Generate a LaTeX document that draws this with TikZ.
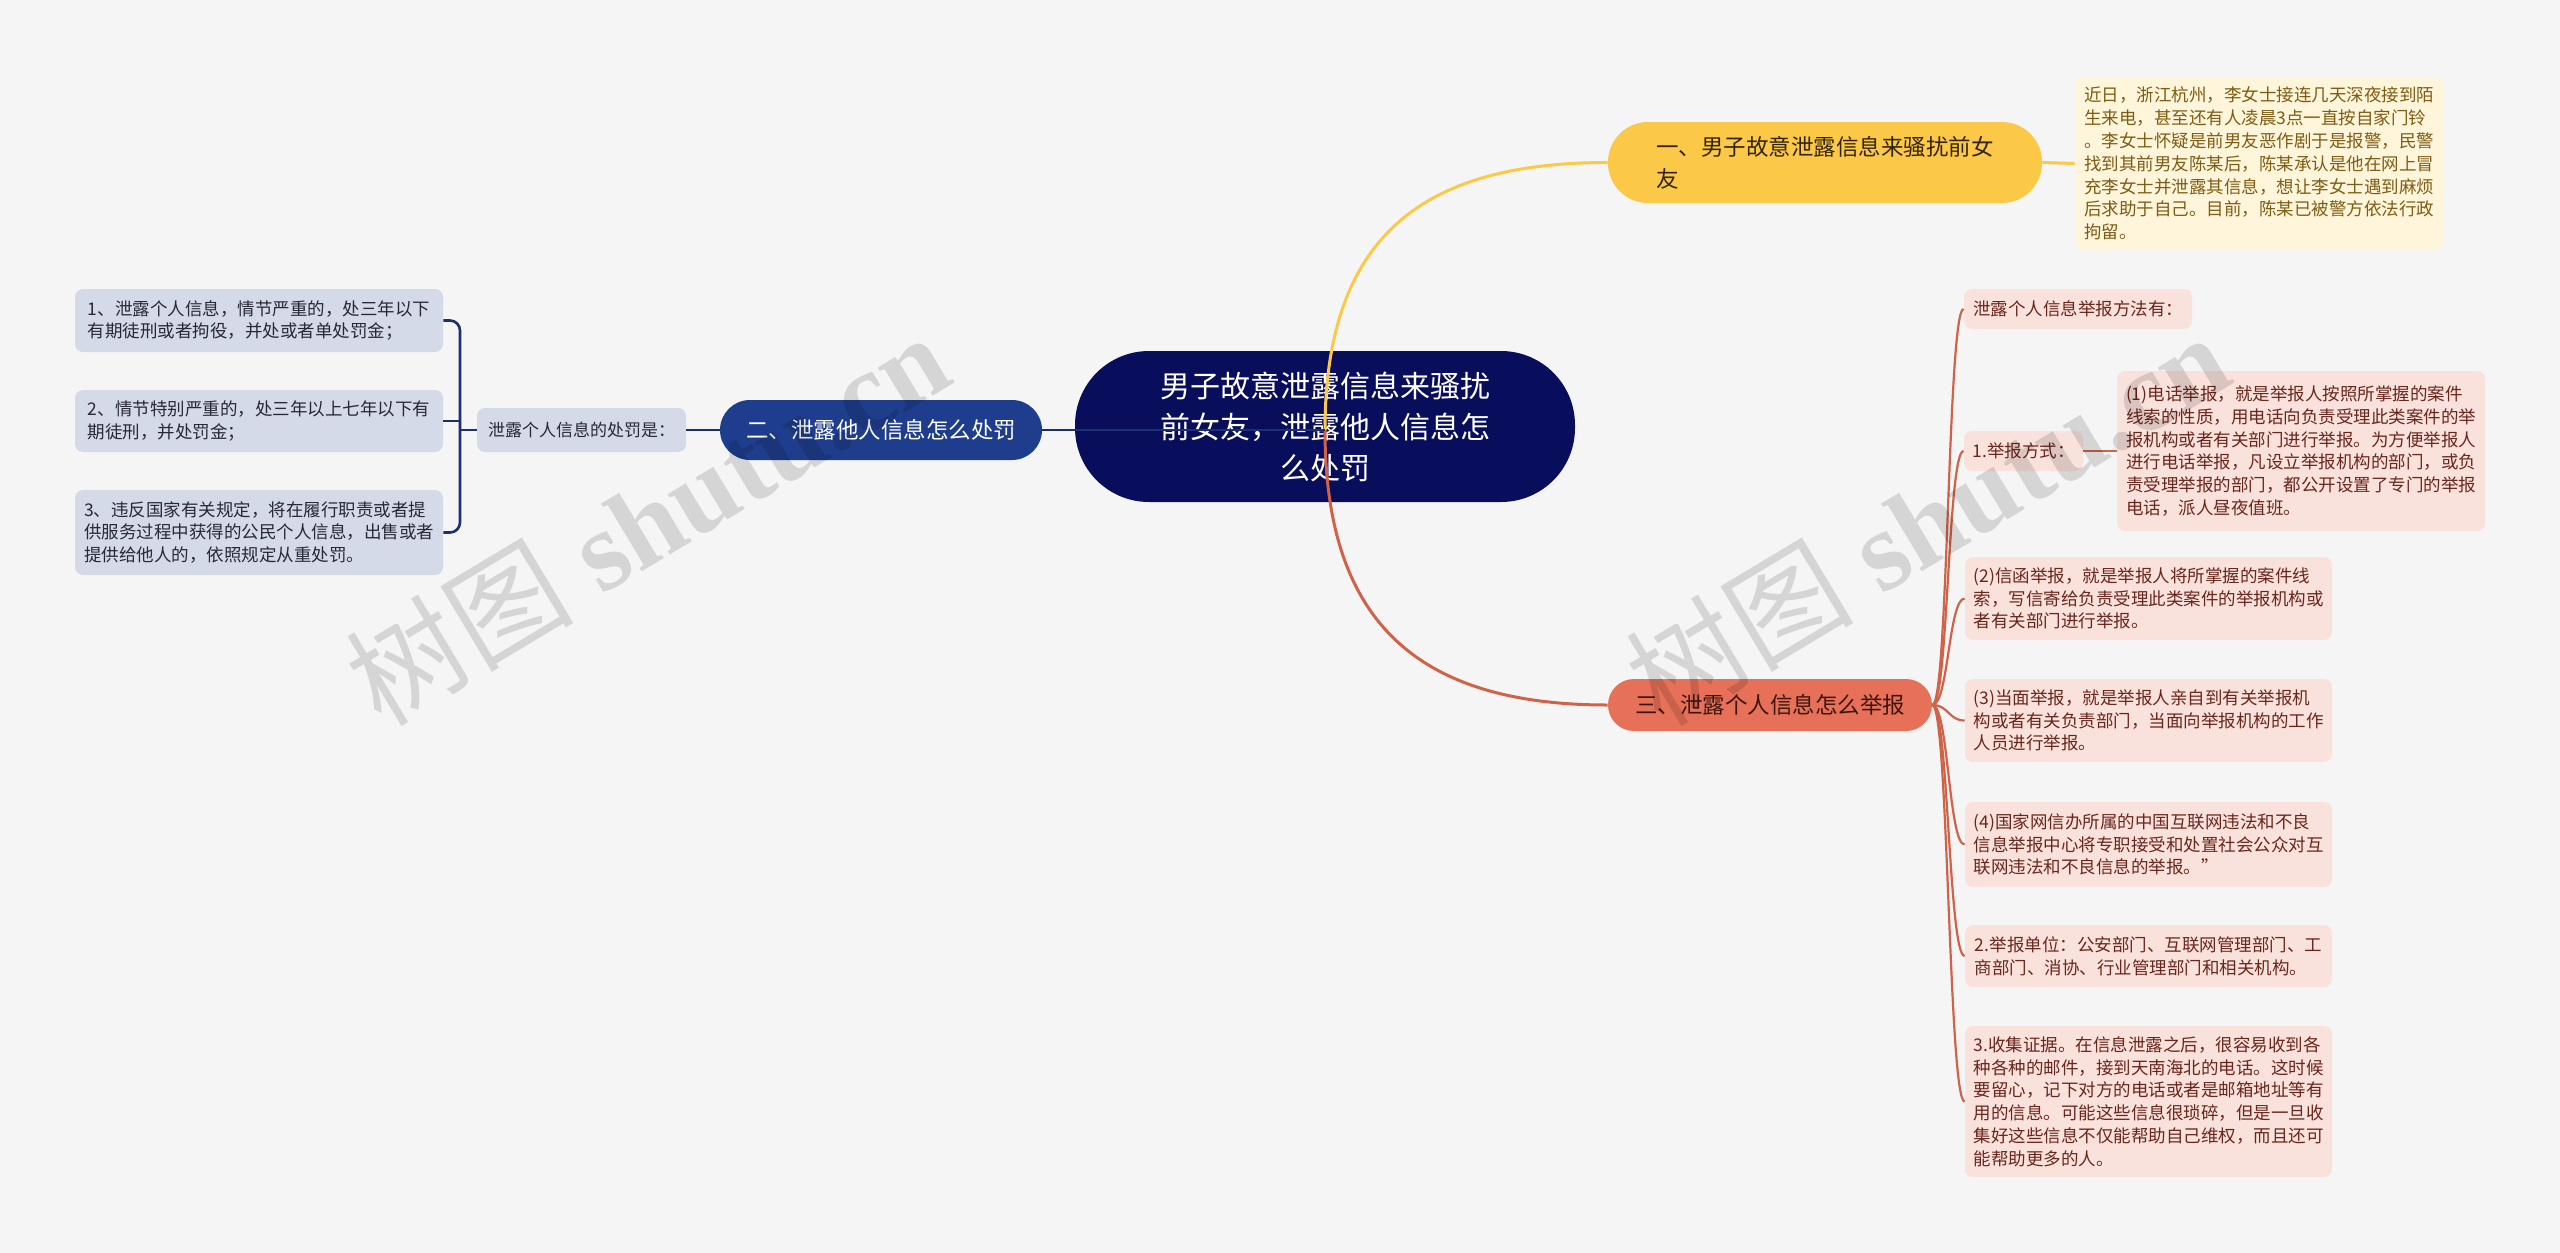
\documentclass[tikz,border=0pt]{standalone}
\usepackage{fontspec}
\setmainfont{Noto Sans CJK SC}
\newfontfamily\wmserif{Liberation Serif}
\usepackage{tikz}
\usetikzlibrary{positioning}
\definecolor{bggray}{HTML}{F5F5F5}
\definecolor{rootnavy}{RGB}{8,14,92}
\definecolor{topicyellow}{RGB}{252,200,72}
\definecolor{yellowtext}{RGB}{50,36,10}
\definecolor{noteyellow}{RGB}{255,245,218}
\definecolor{notetext}{RGB}{125,92,20}
\definecolor{topicblue}{RGB}{30,61,140}
\definecolor{leafblue}{RGB}{213,218,232}
\definecolor{lineblue}{RGB}{28,48,112}
\definecolor{bluetext}{RGB}{40,40,55}
\definecolor{topicred}{RGB}{230,112,88}
\definecolor{leafred}{RGB}{250,226,220}
\definecolor{linered}{RGB}{208,98,72}
\definecolor{redtext}{RGB}{105,38,28}
\definecolor{topicredtext}{RGB}{60,22,14}

\begin{document}
\begin{tikzpicture}[x=0.5pt, y=-0.5pt,
	every node/.style={inner sep=0pt},
	rootbox/.style={fill=rootnavy, text=white, align=center, rounded corners=37pt,
		minimum width=250pt, minimum height=75.5pt, font=\fontsize{15pt}{20.5pt}\selectfont},
	topicbox/.style={align=left, font=\fontsize{11.25pt}{16pt}\selectfont},
	leafbox/.style={align=left, rounded corners=4pt, font=\fontsize{8.75pt}{11.4pt}\selectfont},
	leafb/.style={leafbox, fill=leafblue, text=bluetext, minimum width=184pt},
	leafr/.style={leafbox, fill=leafred, text=redtext, minimum width=183.5pt},
	yellowline/.style={draw=topicyellow, line width=1.5pt},
	blueline/.style={draw=lineblue, line width=1.3pt},
	redline/.style={draw=linered, line width=1.5pt},
	redthin/.style={draw=linered, line width=1.1pt},
	watermark/.style={rotate=31, text=black, text opacity=0.13,
		font=\wmserif\bfseries\fontsize{57pt}{57pt}\selectfont}]
	% fondo
	\fill[bggray] (0,0) rectangle (2560,1253);
	\useasboundingbox (0,0) rectangle (2560,1253);
	% nodo central
	\node[rootbox] (root) at (1325,426.5) {男子故意泄露信息来骚扰\\前女友，泄露他人信息怎\\么处罚};
	\coordinate (hub) at (1325,430);
	% ramas principales
	\node[topicbox, fill=topicyellow, text=yellowtext, rounded corners=20pt,
		minimum width=217pt, minimum height=40.5pt] (harass) at (1825,162.5)
		{一、男子故意泄露信息来骚扰前女\\友};
	\node[topicbox, fill=topicblue, text=white, rounded corners=15pt,
		minimum width=161pt, minimum height=30pt] (punish) at (881,430)
		{二、泄露他人信息怎么处罚};
	\node[topicbox, fill=topicred, text=topicredtext, rounded corners=13pt,
		minimum width=162pt, minimum height=26pt] (report) at (1770,705)
		{三、泄露个人信息怎么举报};
	\draw[yellowline] (hub) .. controls +(0,-200) and +(-178,0) .. (harass.west);
	\draw[redline] (hub) .. controls +(0,194) and +(-188,0) .. (report.west);
	\draw[blueline] (hub) -- (punish.east);
	% rama amarilla
	\node[leafbox, fill=noteyellow, text=notetext, minimum width=184pt, minimum height=86.5pt] (news) at (2259,163.5)
		{近日，浙江杭州，李女士接连几天深夜接到陌\\生来电，甚至还有人凌晨3点一直按自家门铃\\。李女士怀疑是前男友恶作剧于是报警，民警\\找到其前男友陈某后，陈某承认是他在网上冒\\充李女士并泄露其信息，想让李女士遇到麻烦\\后求助于自己。目前，陈某已被警方依法行政\\拘留。};
	\draw[yellowline] (harass.east) -- (news.west);
	% rama azul
	\node[leafbox, fill=leafblue, text=bluetext, font=\fontsize{8.5pt}{11pt}\selectfont,
		minimum width=104.5pt, minimum height=22pt] (plabel) at (581.5,430) {泄露个人信息的处罚是：};
	\node[leafb, minimum height=31.5pt] (pb1) at (259,320.5)
		{1、泄露个人信息，情节严重的，处三年以下\\有期徒刑或者拘役，并处或者单处罚金；};
	\node[leafb, minimum height=31pt] (pb2) at (259,421)
		{2、情节特别严重的，处三年以上七年以下有\\期徒刑，并处罚金；};
	\node[leafb, minimum height=42.5pt] (pb3) at (259,532.5)
		{3、违反国家有关规定，将在履行职责或者提\\供服务过程中获得的公民个人信息，出售或者\\提供给他人的，依照规定从重处罚。};
	\coordinate (brk) at (460,430);
	\draw[blueline] (plabel.east) -- (punish.west);
	\draw[blueline] (brk) -- (plabel.west);
	\draw[blueline, rounded corners=5pt] (pb1.east) -| (brk) |- (pb3.east);
	\draw[blueline] (pb2.east) -- (pb2.east -| brk);
	% rama roja
	\node[leafr, minimum width=114pt, minimum height=20pt] (r0) at (2078,309) {泄露个人信息举报方法有：};
	\node[leafr, minimum width=59.5pt, minimum height=20pt] (r1) at (2023.5,451) {1.举报方式：};
	\node[leafr, minimum width=184pt, minimum height=80pt] (r1a) at (2301,451)
		{(1)电话举报，就是举报人按照所掌握的案件\\线索的性质，用电话向负责受理此类案件的举\\报机构或者有关部门进行举报。为方便举报人\\进行电话举报，凡设立举报机构的部门，或负\\责受理举报的部门，都公开设置了专门的举报\\电话，派人昼夜值班。};
	\node[leafr, minimum height=41.5pt] (r2) at (2148.5,598.5)
		{(2)信函举报，就是举报人将所掌握的案件线\\索，写信寄给负责受理此类案件的举报机构或\\者有关部门进行举报。};
	\node[leafr, minimum height=41.5pt] (r3) at (2148.5,720.5)
		{(3)当面举报，就是举报人亲自到有关举报机\\构或者有关负责部门，当面向举报机构的工作\\人员进行举报。};
	\node[leafr, minimum height=42.5pt] (r4) at (2148.5,844.5)
		{(4)国家网信办所属的中国互联网违法和不良\\信息举报中心将专职接受和处置社会公众对互\\联网违法和不良信息的举报。”};
	\node[leafr, minimum height=31pt] (r5) at (2148.5,956)
		{2.举报单位：公安部门、互联网管理部门、工\\商部门、消协、行业管理部门和相关机构。};
	\node[leafr, minimum height=75.5pt] (r6) at (2148.5,1101.5)
		{3.收集证据。在信息泄露之后，很容易收到各\\种各种的邮件，接到天南海北的电话。这时候\\要留心，记下对方的电话或者是邮箱地址等有\\用的信息。可能这些信息很琐碎，但是一旦收\\集好这些信息不仅能帮助自己维权，而且还可\\能帮助更多的人。};
	\foreach \n in {r0,r1,r2,r3,r4,r5,r6}
		\draw[redthin] (report.east) .. controls +(16,0) and +(-16,0) .. (\n.west);
	\draw[redthin] (r1.east) -- (r1a.west);
	% marca de agua
	\foreach \wx in {647,1927}
		\node[watermark] (wm\wx) at (\wx,518) {{\normalfont 树图} shutu.cn};
\end{tikzpicture}
\end{document}
